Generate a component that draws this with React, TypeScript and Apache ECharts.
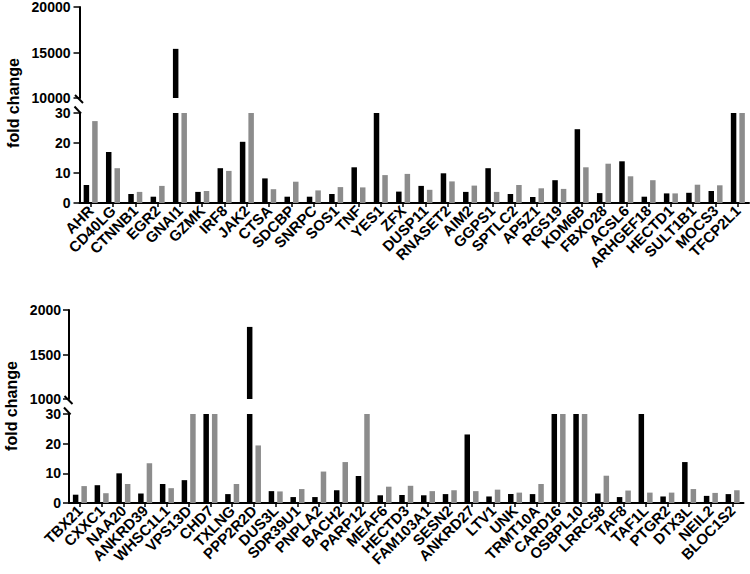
import React, { useEffect, useRef } from "react";
import * as echarts from "echarts";

const topCategories = ["AHR","CD40LG","CTNNB1","EGR2","GNAI1","GZMK","IRF8","JAK2","CTSA","SDCBP","SNRPC","SOS1","TNF","YES1","ZFX","DUSP11","RNASET2","AIM2","GGPS1","SPTLC2","AP5Z1","RGS19","KDM6B","FBXO28","ACSL6","ARHGEF18","HECTD1","SULT1B1","MOCS3","TFCP2L1"];
const topBlack = [6, 17, 3, 2.1, 15400, 3.7, 11.6, 20.4, 8.2, 2.1, 2.1, 3, 11.9, 45, 3.8, 5.7, 9.9, 3.7, 11.6, 3, 2, 7.6, 24.6, 3.3, 13.9, 2.1, 3.2, 3.4, 4, 40];
const topGray = [27.3, 11.6, 3.7, 5.7, 40, 4, 10.7, 35, 4.6, 7.1, 4.2, 5.3, 5.2, 9.3, 9.7, 4.4, 7.2, 5.8, 3.7, 6, 4.9, 4.7, 11.9, 13.1, 8.9, 7.6, 3.2, 6.1, 5.9, 40];

const bottomCategories = ["TBX21","CXXC1","NAA20","ANKRD39","WHSC1L1","VPS13D","CHD7","TXLNG","PPP2R2D","DUS3L","SDR39U1","PNPLA2","BACH2","PARP12","MEAF6","HECTD3","FAM103A1","SESN2","ANKRD27","LTV1","UNK","TRMT10A","CARD16","OSBPL10","LRRC58","TAF8","TAF1L","PTGR2","DTX3L","NEIL2","BLOC1S2"];
const bottomBlack = [2.8, 6, 10, 3.2, 6.4, 7.7, 40, 3, 1810, 4, 2, 2, 4.3, 9.1, 2.6, 2.7, 2.6, 3, 23.1, 2.2, 3, 3, 40, 40, 3.2, 2, 40, 2.2, 13.8, 2.4, 3];
const bottomGray = [5.7, 3.3, 6.4, 13.4, 5, 40, 40, 6.4, 19.4, 3.9, 4.7, 10.6, 13.8, 40, 5.5, 5.8, 4, 4.3, 4, 4.5, 3.5, 6.4, 40, 40, 9.2, 4.2, 3.5, 3.5, 4.7, 3.4, 4.3];

const topLowerTicks = [0, 30, 10];
const topUpperTicks = [10000, 20000, 5000];
const bottomLowerTicks = [0, 30, 10];
const bottomUpperTicks = [1000, 2000, 500];

const FONT = "Liberation Sans";
const BLACK = "#000000";
const GRAY = "#8c8c8c";

export default function App() {
  const ref = useRef<HTMLDivElement>(null);
  useEffect(() => {
    if (!ref.current) return;
    const chart = echarts.init(ref.current, null, { renderer: "svg" });

    const panels = [
      { cats: topCategories, black: topBlack, gray: topGray, low: topLowerTicks, up: topUpperTicks, left: 79.5, right: 1, upTop: 6, upH: 92, lowTop: 113, lowH: 90 },
      { cats: bottomCategories, black: bottomBlack, gray: bottomGray, low: bottomLowerTicks, up: bottomUpperTicks, left: 69, right: 6.5, upTop: 310, upH: 89, lowTop: 414, lowH: 89 },
    ];

    const grids: any[] = [];
    const xAxes: any[] = [];
    const yAxes: any[] = [];
    const series: any[] = [];
    const graphics: any[] = [];

    panels.forEach((p, pi) => {
      const gUp = grids.length;
      grids.push({ left: p.left, right: p.right, top: p.upTop, height: p.upH, containLabel: false });
      const gLow = grids.length;
      grids.push({ left: p.left, right: p.right, top: p.lowTop, height: p.lowH, containLabel: false });

      const yLabel = { color: BLACK, fontFamily: FONT, fontWeight: "bold", fontSize: 14, margin: pi === 0 ? 9 : 8, formatter: (v: number) => String(v) };
      const axisLine = { show: true, lineStyle: { color: BLACK, width: 2 } };
      const axisTick = { show: true, length: 6, lineStyle: { color: BLACK, width: 1.5 } };

      xAxes.push({ type: "category", gridIndex: gUp, data: p.cats, show: false });
      xAxes.push({
        type: "category", gridIndex: gLow, data: p.cats,
        axisLine, axisTick: { show: true, alignWithLabel: true, length: 4, lineStyle: { color: BLACK, width: 1.5 } },
        axisLabel: { interval: 0, rotate: 45, color: BLACK, fontFamily: FONT, fontWeight: "bold", fontSize: 15, margin: 5 },
      });
      yAxes.push({
        type: "value", gridIndex: gUp, min: p.up[0], max: p.up[1], interval: p.up[2],
        splitLine: { show: false }, axisLine, axisTick, axisLabel: yLabel,
      });
      yAxes.push({
        type: "value", gridIndex: gLow, min: p.low[0], max: p.low[1], interval: p.low[2],
        splitLine: { show: false }, axisLine, axisTick, axisLabel: yLabel,
      });

      const upData = (arr: number[]) => arr.map((v) => (v > p.up[0] ? v : "-"));
      const lowData = (arr: number[]) => arr.map((v) => Math.min(v, p.low[1]));
      const barCommon = { type: "bar", barWidth: 5.5, barGap: "55%", clip: true };
      series.push({ ...barCommon, name: "a" + pi, xAxisIndex: gUp, yAxisIndex: gUp, data: upData(p.black), itemStyle: { color: BLACK } });
      series.push({ ...barCommon, name: "b" + pi, xAxisIndex: gUp, yAxisIndex: gUp, data: upData(p.gray), itemStyle: { color: GRAY } });
      series.push({ ...barCommon, name: "c" + pi, xAxisIndex: gLow, yAxisIndex: gLow, data: lowData(p.black), itemStyle: { color: BLACK } });
      series.push({ ...barCommon, name: "d" + pi, xAxisIndex: gLow, yAxisIndex: gLow, data: lowData(p.gray), itemStyle: { color: GRAY } });

      const ax = p.left + 0.5;
      const yb = p.upTop + p.upH;
      const yt = p.lowTop;
      const ls = { stroke: BLACK, lineWidth: 2 };
      graphics.push({ type: "line", shape: { x1: ax - 5, y1: yb - 3, x2: ax + 3, y2: yb + 5 }, style: ls });
      graphics.push({ type: "line", shape: { x1: ax - 5.5, y1: yt - 6.5, x2: ax + 1, y2: yt + 0.5 }, style: ls });
      graphics.push({
        type: "text", x: pi === 0 ? 13 : 11, y: pi === 0 ? 103 : 406, rotation: Math.PI / 2,
        style: { text: "fold change", fill: BLACK, font: `bold 16px "${FONT}"`, align: "center", verticalAlign: "middle" },
      });
    });

    chart.setOption({
      animation: false,
      backgroundColor: "#ffffff",
      grid: grids,
      xAxis: xAxes,
      yAxis: yAxes,
      series,
      graphic: graphics,
    });
    return () => chart.dispose();
  }, []);
  return <div ref={ref} style={{ position: "absolute", left: 0, top: 0, width: 750, height: 574 }} />;
}
